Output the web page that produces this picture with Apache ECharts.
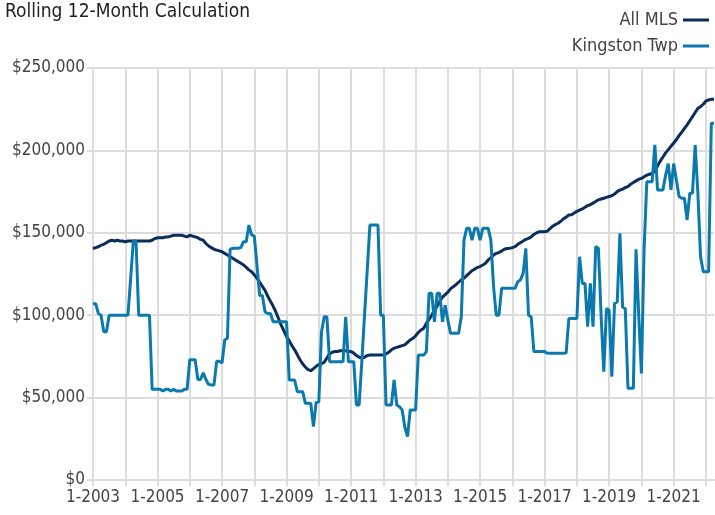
<!DOCTYPE html>
<html><head><meta charset="utf-8">
<script src="https://cdn.jsdelivr.net/npm/echarts@6/dist/echarts.min.js"></script>
<style>html,body{margin:0;padding:0;background:#fff}#c{width:715px;height:515px}</style>
</head><body><div id="c"></div><script>
const FONT = '"Liberation Sans Narrow","DejaVu Sans Condensed","Roboto",sans-serif';
const startYear = 2003;
const monthCount = 232;
const categories = [];
for (let i = 0; i < monthCount; i++) { categories.push(((i % 12) + 1) + '-' + (startYear + Math.floor(i / 12))); }
const yTicks = [0, 50000, 100000, 150000, 200000, 250000];

const allMLS = [
140500,141000,141500,142500,143000,144000,145000,145500,145000,145500,145000,145000,
144500,145000,145000,145000,145000,145000,145000,145000,145000,145000,145500,146500,
147000,147000,147000,147500,147500,148000,148500,148500,148500,148500,148000,147500,
148500,148000,147500,147000,146000,145500,143500,142000,141000,140000,139500,139000,
138500,137500,136500,135500,134500,133500,132500,131500,130500,129000,127500,126400,
124500,122400,120000,117500,115000,111500,108500,105500,102000,98000,94000,90500,
87000,84500,81500,79000,76000,73000,70500,68500,67000,66300,67500,69000,
70000,70500,71500,74000,76500,77500,78000,78000,78500,78500,78500,78000,
78000,77000,75500,74500,74000,74500,75500,75800,75800,75800,75800,75800,
76000,76500,77500,79000,80000,80500,81000,81500,82000,83500,85000,86000,
87500,89500,91000,92000,95000,97500,100000,103000,105500,108500,111000,112500,
114000,116000,117300,118500,120000,121500,122500,124000,125500,127000,128000,129000,
129500,130500,131500,133500,135000,136500,137500,138000,139000,140000,140500,140600,
141000,141600,143000,144000,145000,146000,146600,147500,149000,150000,150700,150700,
150700,151000,152500,154000,155000,155800,157000,158500,159500,160800,161000,162000,
163000,163800,164500,165500,166500,167000,168000,169000,170000,170500,171000,171500,
172000,172500,173500,175000,176000,176500,177500,178000,179500,180500,181500,182500,
183000,184000,185000,185500,186000,187500,190500,193500,196000,198500,200500,202500,
204500,206500,209000,211000,213400,215500,218000,220500,223000,225500,226500,228000,
230000,230600,231000,231000
];

const kingstonTwp = [
107000,107000,101000,100000,90000,90000,100000,100000,100000,100000,100000,100000,
100000,100000,122000,145000,145000,100000,100000,100000,100000,100000,55000,55000,
55000,55000,54000,55000,55000,54000,55000,54000,54000,54000,55000,55000,
73000,73000,73000,61000,61000,65000,61000,58000,57600,57600,72000,72000,
71000,85000,86000,140000,140600,140600,140600,141000,144600,144600,154700,148700,
148000,130000,112000,112000,102000,101000,101000,96000,96000,96000,96000,96000,
96000,60700,60700,60700,53600,53600,53600,46500,46500,46500,32400,47000,
47500,90000,99000,99000,71800,71800,71800,71800,71800,71800,99000,71800,
71800,71800,45500,45500,72000,100000,127000,154700,154700,154700,154700,100000,
100000,45500,45500,45500,60700,45500,44500,42500,32000,26300,42500,42500,
42500,75800,75800,75800,77900,113300,113300,96000,113300,113300,96000,106000,
97000,89000,89000,89000,89000,99000,145600,152700,152700,145600,152700,152700,
145600,152700,152700,152700,145600,117300,100000,100000,116300,116300,116300,116300,
116300,116300,120300,121400,125400,140600,100000,99000,77900,77900,77900,77900,
77900,76900,76900,76900,76900,76900,76900,76900,77000,98000,98000,98000,
98000,135500,119300,119300,93000,119300,93000,141600,140600,100000,65700,104000,
103000,62700,107200,108000,149700,105000,104000,55600,55600,55600,140000,100000,
64700,140000,181000,181000,181000,203300,176000,176000,176000,185000,192000,176000,
192000,182000,172000,171000,171000,157800,174000,174000,203300,174000,135500,126400,
126400,126400,216500,216500
];

const chart = echarts.init(document.getElementById('c'), null, {renderer: 'canvas'});
const gridColor = '#dcdcdc';
chart.setOption({
  animation: false,
  backgroundColor: '#ffffff',
  textStyle: {fontFamily: FONT},
  title: {
    text: 'Rolling 12-Month Calculation',
    left: 0, top: -2,
    textStyle: {fontFamily: FONT, fontSize: 19, fontWeight: 'normal', color: '#222'}
  },
  legend: {
    data: ['All MLS', 'Kingston Twp'],
    orient: 'vertical',
    right: 1, top: 6,
    align: 'right',
    icon: 'rect',
    itemWidth: 26, itemHeight: 3,
    itemGap: 8,
    textStyle: {fontFamily: FONT, fontSize: 18, color: '#444'}
  },
  grid: {left: 93, right: 1, top: 68, bottom: 35, containLabel: false},
  xAxis: {
    type: 'category',
    data: categories,
    boundaryGap: false,
    axisLine: {show: true, lineStyle: {color: gridColor, width: 2}},
    axisTick: {show: true, interval: 11, length: 6, lineStyle: {color: gridColor, width: 2}},
    axisLabel: {interval: 23, color: '#444', fontFamily: FONT, fontSize: 17, margin: 9},
    splitLine: {show: true, interval: 11, lineStyle: {color: gridColor, width: 2}}
  },
  yAxis: {
    type: 'value',
    min: yTicks[0], max: yTicks[yTicks.length - 1], interval: yTicks[1] - yTicks[0],
    axisLine: {show: false},
    axisTick: {show: true, length: 6, lineStyle: {color: gridColor, width: 2}},
    axisLabel: {color: '#444', fontFamily: FONT, fontSize: 17, margin: 8,
      formatter: v => '$' + v.toLocaleString('en-US')},
    splitLine: {show: true, lineStyle: {color: gridColor, width: 2}}
  },
  series: [
    {name: 'All MLS', type: 'line', data: allMLS, showSymbol: false, symbol: 'none',
     color: '#0c2c5c', lineStyle: {width: 3, color: '#0c2c5c'}},
    {name: 'Kingston Twp', type: 'line', data: kingstonTwp, showSymbol: false, symbol: 'none',
     color: '#0a7aae', lineStyle: {width: 3, color: '#0a7aae'}}
  ]
});
</script></body></html>
